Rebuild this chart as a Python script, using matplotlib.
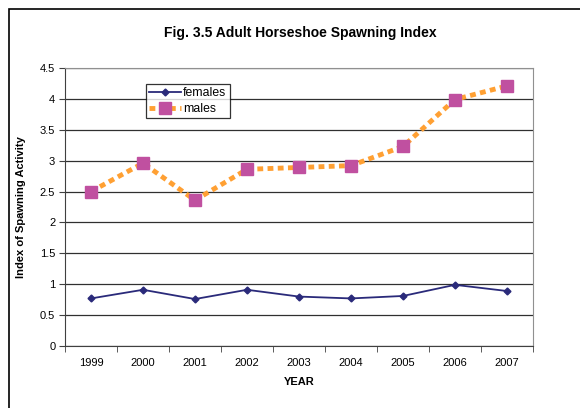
import matplotlib.pyplot as plt
from matplotlib.patches import Rectangle

plt.rcParams['font.family'] = ['Liberation Sans', 'DejaVu Sans']

# Data
years = ['1999', '2000', '2001', '2002', '2003', '2004', '2005', '2006', '2007']
females = [0.77, 0.91, 0.76, 0.91, 0.80, 0.77, 0.81, 0.99, 0.89]
males = [2.50, 2.96, 2.36, 2.86, 2.89, 2.92, 3.23, 3.99, 4.21]
yticks = [0, 0.5, 1, 1.5, 2, 2.5, 3, 3.5, 4, 4.5]

fig = plt.figure(figsize=(5.8, 4.08), dpi=100)
ax = fig.add_axes([65 / 580, 1 - 346 / 408, (533 - 65) / 580, (346 - 68) / 408])

x = list(range(len(years)))
ax.plot(x, females, color='#2a2a7a', linewidth=1.3, marker='D', markersize=3.5,
        label='females')
ax.plot(x, males, color='#ffa033', linewidth=3.5, linestyle=(0, (1.2, 0.9)),
        marker='s', markersize=8, markerfacecolor='#c050a0', markeredgecolor='#c050a0',
        label='males')

ax.set_xlim(-0.5, len(years) - 0.5)
ax.set_ylim(0, 4.5)
ax.set_yticks(yticks)
ax.set_yticklabels([f'{v:g}' for v in yticks], fontsize=8)
ax.set_xticks(x)
ax.set_xticklabels(years, fontsize=8)
ax.set_xticks([i - 0.5 for i in range(len(years) + 1)], minor=True)
ax.tick_params(axis='x', which='major', length=0, pad=9)
ax.tick_params(axis='x', which='minor', length=4, direction='out', color='#404040')
ax.tick_params(axis='y', length=4, direction='out', color='#404040', pad=3)
ax.yaxis.grid(True, color='#303030', linewidth=0.9)
ax.set_axisbelow(True)

for side in ['top', 'right']:
    ax.spines[side].set_color('#909090')
for side in ['left', 'bottom']:
    ax.spines[side].set_color('#404040')

ax.set_xlabel('YEAR', fontsize=8, fontweight='bold', labelpad=6)
ax.set_ylabel('Index of Spawning Activity', fontsize=8, fontweight='bold', labelpad=10)
fig.text(300 / 580, 1 - 33 / 408, 'Fig. 3.5 Adult Horseshoe Spawning Index',
         fontsize=10, fontweight='bold', ha='center', va='center')

leg = ax.legend(loc='upper left', bbox_to_anchor=((146 - 65) / 468, (346 - 84) / 278),
                fontsize=8.8, frameon=True, fancybox=False, borderpad=0.25,
                handlelength=2.6, handletextpad=0.2, borderaxespad=0, labelspacing=0.35)
leg.get_frame().set_edgecolor('black')
leg.get_frame().set_linewidth(0.9)

# outer chart frame (right and bottom edges fall outside the image)
fig.patches.append(Rectangle((9 / 580, -0.1), 1.0, 1 - 8.5 / 408 + 0.1,
                             transform=fig.transFigure, fill=False,
                             edgecolor='black', linewidth=1.2))

fig.savefig('out.png', dpi=100)
